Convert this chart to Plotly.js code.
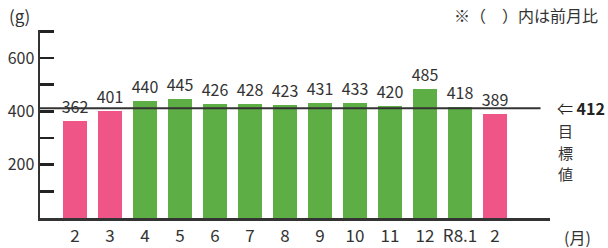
<!DOCTYPE html>
<html><head><meta charset="utf-8">
<script src="https://cdn.plot.ly/plotly-3.0.1.min.js"></script>
<style>body{margin:0;background:#fff}#c{width:608px;height:248px}</style>
</head><body><div id="c"></div>
<script>
const months = ["2","3","4","5","6","7","8","9","10","11","12","R8.1","2"];
const values = [362,401,440,445,426,428,423,431,433,420,485,418,389];
const barColors = ["#EF5586","#EF5586","#5DAE45","#5DAE45","#5DAE45","#5DAE45","#5DAE45","#5DAE45","#5DAE45","#5DAE45","#5DAE45","#5DAE45","#EF5586"];
const target = 412;
const targetLabel = ["目","標","値"];
const yTickVals = [100,200,300,400,500,600,700];
const yTickText = ["","200","","400","","600",""];
const idx = months.map((m,i)=>i);
const F = '"Noto Sans CJK JP","Noto Sans",sans-serif';

const data = [{
  type:'bar', x: idx, y: values, width:0.69,
  marker:{color:barColors},
  text: values.map(String), textposition:'outside', constraintext:'none', cliponaxis:false,
  textfont:{family:F,size:16,color:'#333'}, hoverinfo:'none'
},{
  type:'scatter', mode:'lines', x:[-1,13.3], y:[target,target],
  line:{color:'#333',width:2}, hoverinfo:'none'
}];

const annos = [
  {xref:'paper',yref:'paper',x:-0.065,y:1.075,xanchor:'left',yanchor:'middle',text:'(g)',showarrow:false,font:{size:17,family:F,color:'#333'}},
  {xref:'paper',yref:'paper',x:1.098,y:1.08,xanchor:'right',yanchor:'middle',text:'※（　）内は前月比',showarrow:false,font:{size:16,family:F,color:'#333'}},
  {xref:'paper',yref:'y',x:1.01,y:target,xanchor:'left',yanchor:'middle',text:'⇐ <b>412</b>',showarrow:false,font:{size:16,family:F,color:'#222'}},
  {xref:'paper',yref:'paper',x:1.085,y:-0.10,xanchor:'right',yanchor:'middle',text:'(月)',showarrow:false,font:{size:16,family:F,color:'#333'}}
];
const charY = [0.465, 0.350, 0.235];
targetLabel.forEach((ch,i)=>annos.push({xref:'paper',yref:'paper',x:1.03,y:charY[i],xanchor:'center',yanchor:'middle',text:ch,showarrow:false,font:{size:15,family:F,color:'#333'}}));

const layout = {
  width:608, height:248, margin:{l:40,r:58,t:30,b:30},
  paper_bgcolor:'#fff', plot_bgcolor:'#fff', showlegend:false, bargap:0,
  font:{family:F,color:'#333'},
  xaxis:{range:[-1,13.57], tickvals:idx, ticktext:months, showgrid:false, zeroline:false,
    showline:true, linecolor:'#333', linewidth:2.5, ticks:'', tickfont:{size:17,family:F,color:'#333'}, ticklabelstandoff:1},
  yaxis:{range:[0,705], tickvals:yTickVals, ticktext:yTickText, showgrid:false, zeroline:false,
    showline:true, linecolor:'#333', linewidth:2.5, ticks:'inside', ticklen:14, tickwidth:2.5, tickcolor:'#222',
    tickfont:{size:16,family:F,color:'#333'}},
  annotations: annos
};
Plotly.newPlot('c',data,layout,{staticPlot:true});
</script></body></html>
